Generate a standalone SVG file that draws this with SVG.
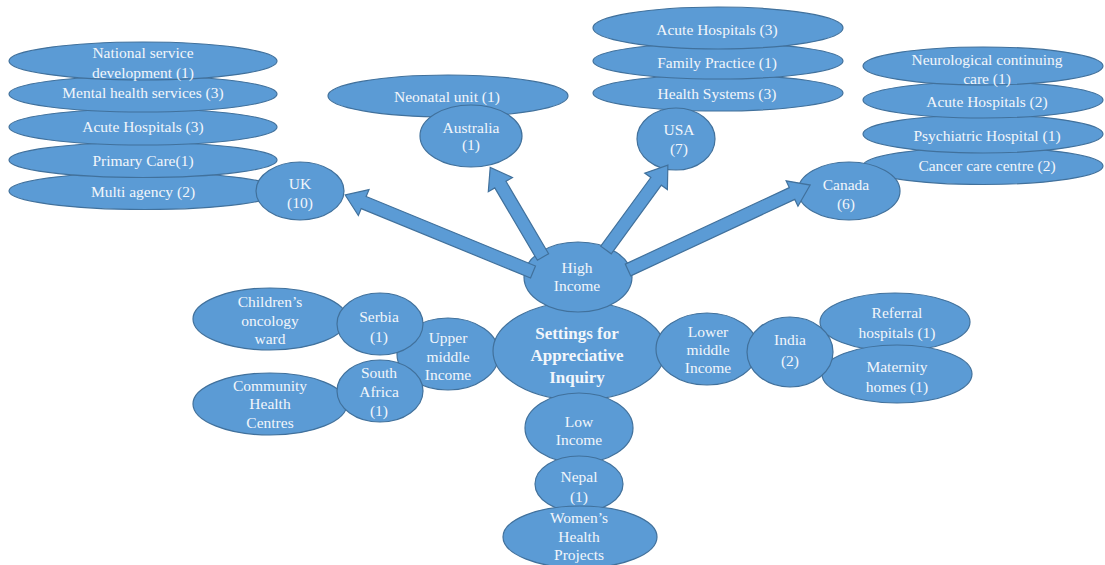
<svg xmlns="http://www.w3.org/2000/svg" width="1105" height="565" viewBox="0 0 1105 565">
  <style>
    ellipse { fill: #5B9BD5; stroke: #41719C; stroke-width: 1.2; }
    .arrow { fill: #5B9BD5; stroke: #41719C; stroke-width: 1.2; stroke-linejoin: miter; }
    text { font-family: "Liberation Serif", "Times New Roman", serif; font-size: 15.5px; fill: #F2F6FB; text-anchor: middle; }
    text.title { font-size: 17px; font-weight: bold; }
  </style>
  <rect width="1105" height="565" fill="#FFFFFF"/>

  <!-- UK settings (stacked bottom-up so upper items sit on top) -->
  <g id="uk-multi"><ellipse cx="145" cy="191" rx="136" ry="18.5"/><text x="143" y="197">Multi agency (2)</text></g>
  <g id="uk-primary"><ellipse cx="143" cy="160" rx="134" ry="17.5"/><text x="143" y="166">Primary Care(1)</text></g>
  <g id="uk-acute"><ellipse cx="143" cy="127" rx="134" ry="18"/><text x="143" y="132">Acute Hospitals (3)</text></g>
  <g id="uk-mental"><ellipse cx="143" cy="94" rx="134" ry="18"/><text x="143" y="98">Mental health services (3)</text></g>
  <g id="uk-national"><ellipse cx="143" cy="61" rx="134" ry="19"/><text x="143" y="58">National service</text><text x="143" y="78">development (1)</text></g>
  <g id="uk"><ellipse cx="300" cy="191" rx="44" ry="29"/><text x="300" y="189">UK</text><text x="300" y="208">(10)</text></g>

  <!-- Australia -->
  <g id="au-neonatal"><ellipse cx="448" cy="96" rx="120" ry="21"/><text x="447" y="102">Neonatal unit (1)</text></g>
  <g id="australia"><ellipse cx="471" cy="136" rx="51" ry="31"/><text x="471" y="133">Australia</text><text x="471" y="150">(1)</text></g>

  <!-- USA settings -->
  <g id="usa-health"><ellipse cx="718" cy="93" rx="125" ry="18"/><text x="717" y="99">Health Systems (3)</text></g>
  <g id="usa-family"><ellipse cx="718" cy="61" rx="125" ry="18"/><text x="717" y="68">Family Practice (1)</text></g>
  <g id="usa-acute"><ellipse cx="718" cy="28" rx="125" ry="21"/><text x="717" y="35">Acute Hospitals (3)</text></g>
  <g id="usa"><ellipse cx="676" cy="139" rx="39" ry="31"/><text x="679" y="135">USA</text><text x="679" y="154">(7)</text></g>

  <!-- Canada settings -->
  <g id="ca-cancer"><ellipse cx="983" cy="166" rx="120" ry="18.5"/><text x="987" y="171">Cancer care centre (2)</text></g>
  <g id="ca-psych"><ellipse cx="983" cy="134" rx="120" ry="19"/><text x="987" y="141">Psychiatric Hospital (1)</text></g>
  <g id="ca-acute"><ellipse cx="983" cy="100" rx="120" ry="18"/><text x="987" y="107">Acute Hospitals (2)</text></g>
  <g id="ca-neuro"><ellipse cx="983" cy="66" rx="120" ry="19"/><text x="987" y="65">Neurological continuing</text><text x="987" y="84">care (1)</text></g>
  <g id="canada"><ellipse cx="849" cy="191" rx="51" ry="29"/><text x="846" y="190">Canada</text><text x="846" y="209">(6)</text></g>

  <!-- Upper middle income branch -->
  <g id="serbia-oncology"><ellipse cx="270" cy="319" rx="77" ry="31"/><text x="270" y="307">Children’s</text><text x="270" y="326">oncology</text><text x="270" y="344">ward</text></g>
  <g id="sa-community"><ellipse cx="270" cy="404" rx="77" ry="31"/><text x="270" y="391">Community</text><text x="270" y="409">Health</text><text x="270" y="428">Centres</text></g>
  <g id="upper-middle"><ellipse cx="448" cy="354" rx="51" ry="36"/><text x="448" y="343">Upper</text><text x="448" y="362">middle</text><text x="448" y="380">Income</text></g>
  <g id="serbia"><ellipse cx="380" cy="324" rx="43" ry="31"/><text x="379" y="322">Serbia</text><text x="379" y="342">(1)</text></g>
  <g id="south-africa"><ellipse cx="380" cy="391" rx="43" ry="31"/><text x="379" y="378">South</text><text x="379" y="397">Africa</text><text x="379" y="416">(1)</text></g>

  <!-- Central topic -->
  <g id="settings"><ellipse cx="579" cy="351" rx="86" ry="49"/><text class="title" x="577" y="339">Settings for</text><text class="title" x="577" y="361">Appreciative</text><text class="title" x="577" y="383">Inquiry</text></g>

  <!-- Lower middle income branch -->
  <g id="lower-middle"><ellipse cx="707" cy="349" rx="51" ry="36"/><text x="708" y="337">Lower</text><text x="708" y="355">middle</text><text x="708" y="373">Income</text></g>
  <g id="in-referral"><ellipse cx="895" cy="322" rx="75" ry="29"/><text x="897" y="318">Referral</text><text x="897" y="338">hospitals (1)</text></g>
  <g id="in-maternity"><ellipse cx="897" cy="374" rx="75" ry="29"/><text x="897" y="372">Maternity</text><text x="897" y="392">homes (1)</text></g>
  <g id="india"><ellipse cx="790" cy="352" rx="43" ry="35"/><text x="790" y="345">India</text><text x="790" y="366">(2)</text></g>

  <!-- Low income branch -->
  <g id="low"><ellipse cx="579" cy="428" rx="54" ry="35"/><text x="579" y="427">Low</text><text x="579" y="445">Income</text></g>
  <g id="nepal"><ellipse cx="579" cy="484" rx="44" ry="28"/><text x="579" y="482">Nepal</text><text x="579" y="502">(1)</text></g>
  <g id="np-women"><ellipse cx="580" cy="537" rx="77" ry="31"/><text x="579" y="523">Women’s</text><text x="579" y="542">Health</text><text x="579" y="560">Projects</text></g>

  <!-- High income hub -->
  <g id="high"><ellipse cx="578" cy="277" rx="54" ry="35"/><text x="577" y="273">High</text><text x="577" y="291">Income</text></g>

  <!-- Block arrows from High Income to each country -->
  <g id="connectors">
    <path class="arrow" transform="translate(533,272) rotate(-157.7)" d="M0,-6.5 H183 V-14 L203,0 L183,14 V6.5 H0 Z"/>
    <path class="arrow" transform="translate(543,257) rotate(-120.5)" d="M0,-6.5 H84 V-14 L104,0 L84,14 V6.5 H0 Z"/>
    <path class="arrow" transform="translate(606,250) rotate(-53.9)" d="M0,-6.5 H85 V-14 L105,0 L85,14 V6.5 H0 Z"/>
    <path class="arrow" transform="translate(628,270) rotate(-25)" d="M0,-6.5 H181 V-14 L201,0 L181,14 V6.5 H0 Z"/>
  </g>
</svg>
